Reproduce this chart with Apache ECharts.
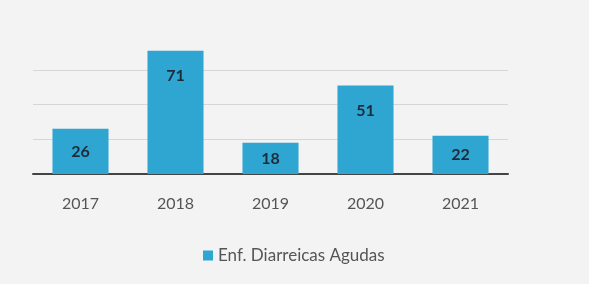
<!DOCTYPE html>
<html lang="es">
<head>
    <meta charset="UTF-8">
    <title>Enf. Diarreicas Agudas</title>
    <script src="https://cdn.jsdelivr.net/npm/echarts@6/dist/echarts.min.js"></script>
    <style>
        html, body { margin: 0; padding: 0; background: #f3f3f3; }
        #container { width: 589px; height: 284px; }
    </style>
</head>
<body>
    <div id="container"></div>
    <script type="text/javascript">
        var years = ['2017', '2018', '2019', '2020', '2021'];
        var casos = [26, 71, 18, 51, 22];
        var seriesName = 'Enf. Diarreicas Agudas';

        var myChart = echarts.init(document.getElementById('container'), null, { renderer: 'canvas' });

        // tall bars get their label near the top, short ones in the middle
        var barData = casos.map(function (v) {
            return {
                value: v,
                label: v > 30 ? { position: 'insideTop', distance: 17 } : { position: 'inside' }
            };
        });

        var option = {
            backgroundColor: '#f3f3f3',
            textStyle: { fontFamily: 'Lato' },
            grid: { left: 33, right: 81, top: 35, bottom: 110 },
            legend: {
                data: [seriesName],
                left: 198,
                top: 242,
                icon: 'rect',
                itemWidth: 10,
                itemHeight: 10,
                itemGap: 6,
                textStyle: { fontSize: 17, color: '#555', fontFamily: 'Lato' }
            },
            xAxis: {
                type: 'category',
                data: years,
                axisLine: { lineStyle: { color: '#444', width: 2 } },
                axisTick: { show: false },
                axisLabel: { fontSize: 16, color: '#555', margin: 22 }
            },
            yAxis: {
                type: 'value',
                min: 0,
                max: 80,
                interval: 20,
                axisLabel: { show: false },
                axisLine: { show: false },
                splitLine: { showMaxLine: false, lineStyle: { color: '#d6d6d6' } }
            },
            series: [
                {
                    name: seriesName,
                    type: 'bar',
                    data: barData,
                    barCategoryGap: '41%',
                    itemStyle: { color: '#2fa5d1' },
                    label: {
                        show: true,
                        color: '#1e2b38',
                        fontWeight: 'bold',
                        fontSize: 16
                    }
                }
            ]
        };

        myChart.setOption(option);
    </script>
</body>
</html>
